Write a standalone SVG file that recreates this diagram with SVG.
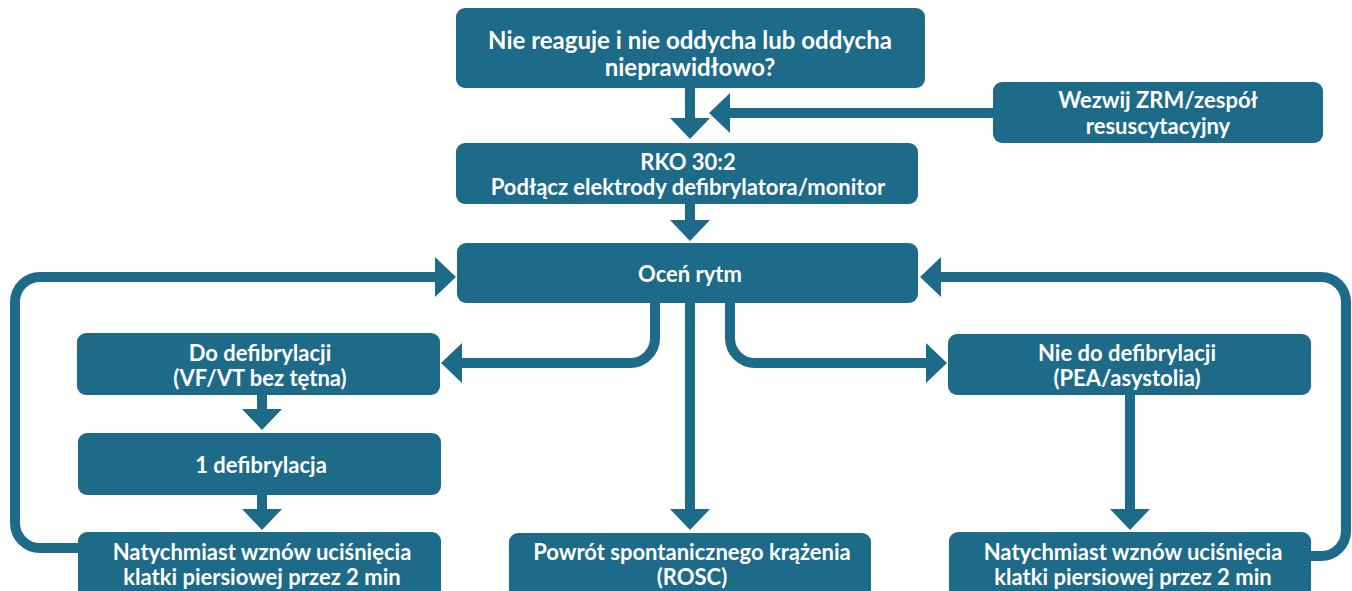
<svg xmlns="http://www.w3.org/2000/svg" width="1352" height="591" viewBox="0 0 1352 591">
<style>
.box{fill:#1e6a89}
.t{font-family:Lato,"Open Sans","Noto Sans",sans-serif;font-weight:bold;font-size:22px;fill:#ffffff;text-anchor:middle}
.big{font-size:24px}
.c{fill:none;stroke:#1e6a89;stroke-width:10}
</style>
<defs>
<marker id="ah" markerUnits="userSpaceOnUse" markerWidth="22" markerHeight="40" viewBox="0 0 22 40" refX="1" refY="20" orient="auto" overflow="visible">
<path d="M0,0 L21,20 L0,40 z" fill="#1e6a89"/>
</marker>
</defs>
<rect width="1352" height="591" fill="#ffffff"/>
<g id="connectors">
<path class="c" d="M690,88 V119" marker-end="url(#ah)"/>
<path class="c" d="M993,113 H729" marker-end="url(#ah)"/>
<path class="c" d="M690,204 V221" marker-end="url(#ah)"/>
<path class="c" d="M655,303 V338 A25,25 0 0 1 630,363 H461" marker-end="url(#ah)"/>
<path class="c" d="M690,303 V510" marker-end="url(#ah)"/>
<path class="c" d="M730,303 V338 A25,25 0 0 0 755,363 H927" marker-end="url(#ah)"/>
<path class="c" d="M262,395 V410" marker-end="url(#ah)"/>
<path class="c" d="M262,495 V510" marker-end="url(#ah)"/>
<path class="c" d="M1130,395 V510" marker-end="url(#ah)"/>
<path class="c" d="M80,548 H40 A25,25 0 0 1 15,523 V302 A25,25 0 0 1 40,277 H436" marker-end="url(#ah)"/>
<path class="c" d="M1309,556 H1321 A25,25 0 0 0 1346,531 V302 A25,25 0 0 0 1321,277 H940" marker-end="url(#ah)"/>
</g>
<g id="n-start">
<rect class="box" x="456" y="8" width="469" height="80" rx="9"/>
<text class="t big" x="690" y="49">Nie reaguje i nie oddycha lub oddycha</text>
<text class="t big" x="690" y="76">nieprawidłowo?</text>
</g>
<g id="n-call">
<rect class="box" x="993" y="82" width="330" height="61" rx="9"/>
<text class="t" x="1158" y="108">Wezwij ZRM/zespół</text>
<text class="t" x="1158" y="134">resuscytacyjny</text>
</g>
<g id="n-cpr">
<rect class="box" x="456" y="143" width="462" height="61" rx="9"/>
<text class="t" x="688" y="170">RKO 30:2</text>
<text class="t" x="688" y="195">Podłącz elektrody defibrylatora/monitor</text>
</g>
<g id="n-rhythm">
<rect class="box" x="457" y="243" width="461" height="60" rx="9"/>
<text class="t" x="690" y="282">Oceń rytm</text>
</g>
<g id="n-shockable">
<rect class="box" x="77" y="333" width="363" height="62" rx="9"/>
<text class="t" x="260" y="361">Do defibrylacji</text>
<text class="t" x="260" y="386">(VF/VT bez tętna)</text>
</g>
<g id="n-shock">
<rect class="box" x="78" y="433" width="363" height="62" rx="9"/>
<text class="t" x="261" y="473">1 defibrylacja</text>
</g>
<g id="n-cpr-left">
<rect class="box" x="78" y="532" width="363" height="70" rx="9"/>
<text class="t" x="262" y="560">Natychmiast wznów uciśnięcia</text>
<text class="t" x="262" y="585">klatki piersiowej przez 2 min</text>
</g>
<g id="n-rosc">
<rect class="box" x="509" y="533" width="362" height="70" rx="9"/>
<text class="t" x="692" y="560">Powrót spontanicznego krążenia</text>
<text class="t" x="692" y="585">(ROSC)</text>
</g>
<g id="n-nonshockable">
<rect class="box" x="948" y="334" width="363" height="61" rx="9"/>
<text class="t" x="1127" y="361">Nie do defibrylacji</text>
<text class="t" x="1127" y="386">(PEA/asystolia)</text>
</g>
<g id="n-cpr-right">
<rect class="box" x="949" y="532" width="362" height="70" rx="9"/>
<text class="t" x="1133" y="560">Natychmiast wznów uciśnięcia</text>
<text class="t" x="1133" y="585">klatki piersiowej przez 2 min</text>
</g>
</svg>
